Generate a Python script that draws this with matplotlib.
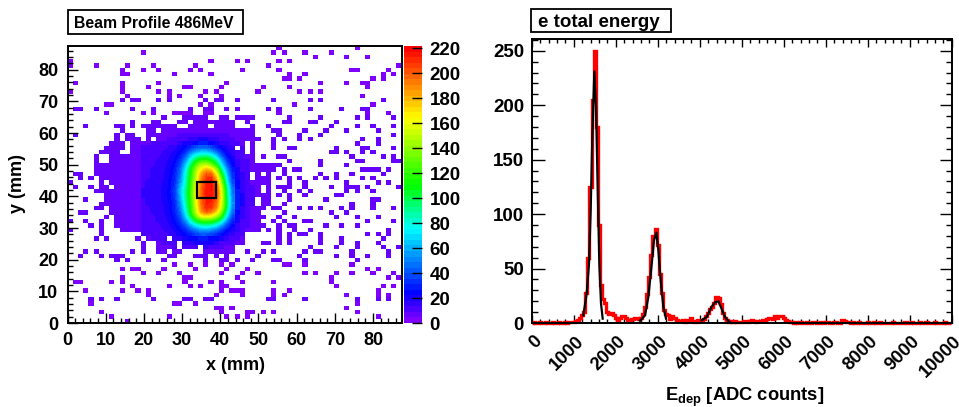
"""
Beam profile heat map and total energy spectrum, 486 MeV
Run: python plot.py  ->  out.png
"""

import numpy as np
import matplotlib
matplotlib.use("Agg")
import matplotlib.pyplot as plt
from matplotlib.colors import LinearSegmentedColormap
from matplotlib.patches import Rectangle
from matplotlib.ticker import MultipleLocator
from matplotlib.transforms import ScaledTranslation

plt.rcParams["font.family"] = ["Liberation Sans", "DejaVu Sans"]
plt.rcParams["font.weight"] = "bold"
plt.rcParams["mathtext.fontset"] = "custom"
plt.rcParams["mathtext.bf"] = "Liberation Sans:bold"
plt.rcParams["mathtext.rm"] = "Liberation Sans:bold"

W, H = 959, 407

# ── left panel: filled cells per row, top row first ──
ROW_CELLS = [
    "40,55", "14,39,41,45,50", "47,53,57", "0,27,32,34,40,42",
    "0,5,11,16,24,38,63", "10,14,17,23,25,33,40,54,55,61",
    "10,11,20,27,42,45,60,62", "41,42,44,58,60",
    "1,10,17,30,48,53,56,57", "10,15,22,23,29,37,42,57",
    "0,10,17,19,26,28,36,44,46,48", "11,19,21,25,29,56",
    "10,12,13,17,19,26,28,29,32,39,46,48,60", "7,8,25,27,43,58",
    "1,2,5,12,16,23,26,27,30,32,38,40,46,52,56,57",
    "7,14,16,20-23,26,27,40,57,61",
    "18,22-26,29,30,32-35,42,48,55,57,62",
    "12,16,17,21,22,24-31,34,41,42,46,47,51",
    "3,9,10,12,14-20,23-26,28-31,35,38,50,55,58,62",
    "10,15,16,18-35,39,40,45,49,53,59",
    "1,9,11,12,15-35,40,44,48,62",
    "9,11-13,15,17-36,39,41,44,46,56,59",
    "8-10,12-33,35,39,55,59",
    "7-10,12-31,33,35,39,42,43,51,56,57,62",
    "6-9,12-33,35,50,51,53,56,58",
    "5,8-35,37,40,41,54,60,62",
    "5,8-35,42,48,55,56,62,63",
    "5-40,48,53",
    "5-39,41,43,44,56-59,61",
    "1,2,5-34,36,38,41,48,51,54,60",
    "2,4,6-34,36-38,40,42,44,47,49,51,56,58",
    "0,6,8-38,42,45,53,59,61",
    "1,4,6,7,9-36,38,40-42,45,50,53-55,57,63",
    "5-36,38,41,44,46,53,55,58",
    "7-38,40,42,45,51,52",
    "3,7-35,37,38,42,49,58,59",
    "6-35,37,38,41,54,58",
    "5,6,8-37,39,40,44,46,48,52,54,58,62",
    "2,3,8-36,41,50,53",
    "7,9-37,40,43,51,55,59",
    "0,3,6,9-36,39,41,45,46,57,62",
    "4,6,9-37,40,42,43,49,52,55",
    "0,6,10-36,38,40,43,46,61",
    "6,14-33,40,42,44,45,48,57,59,61",
    "5,7,13,15-18,20-33,40,42,48,52,60",
    "14,17-20,22-33,37,38,40,42,48,52,55,59",
    "14,17-20,22-24,26-31,46,51,55,60,63",
    "3,5,12,14,17,18,20,21,26-31,34,37,39,45,47,48,54,61",
    "2,6,8-10,19,20,24-26,28,30,36,44,51,54,57,61",
    "9,11,15,18,26,29,30,32,35,39,40,45,55",
    "20,23,26,29,31,41,42,45,54",
    "10,12,13,18,24,30,34,57,59",
    "14,17,21,29,33,36,45,47,51,54,58,62",
    "10,22,23,32,50,61,63",
    "1,2,8,10,22,27,29,33,39,50",
    "12,19,23,25,29,30,51,60,62",
    "3,10,13,15,29,31,32,33,39,42,59",
    "15,28,33,39,41,53,59,61",
    "4,6,9,16,22,23,26,27,38,39,45,55,59,61",
    "4,20,21,24,55",
    "28,29,31,53",
    "6,29,34,35,37,39,55",
    "8,19,30,32,34,59",
    "11",
]

SINGLE_COUNT = 1     # isolated cells
HALO_COUNT   = 7     # outer part of the beam
CORE_ROW0    = 20    # first row of CORE_VALUES
CORE_COL0    = 14    # first column of CORE_VALUES
CORE_VALUES = [
    [6, 6, 6, 6, 7, 7, 8, 9, 10, 11, 12, 13, 13, 12, 11, 10, 9, 8, 7, 6, 6, 5, 5, 5],
    [7, 7, 7, 8, 8, 9, 10, 11, 13, 15, 17, 18, 18, 17, 15, 13, 11, 9, 8, 7, 6, 6, 5, 5],
    [8, 8, 9, 9, 10, 11, 13, 15, 18, 21, 25, 27, 27, 25, 21, 17, 14, 11, 9, 8, 7, 6, 6, 5],
    [9, 9, 10, 11, 12, 14, 16, 20, 25, 30, 38, 42, 42, 37, 29, 22, 17, 13, 10, 9, 8, 7, 6, 5],
    [10, 10, 11, 12, 14, 16, 19, 24, 32, 46, 58, 64, 64, 57, 44, 30, 20, 15, 11, 9, 8, 7, 6, 5],
    [11, 11, 12, 13, 15, 18, 22, 28, 42, 64, 82, 90, 92, 84, 67, 42, 26, 18, 13, 10, 8, 7, 6, 6],
    [11, 12, 13, 14, 16, 19, 24, 33, 52, 80, 105, 118, 120, 108, 88, 57, 33, 21, 15, 11, 9, 7, 6, 6],
    [12, 12, 13, 15, 17, 20, 26, 38, 63, 95, 125, 145, 150, 135, 110, 72, 42, 24, 17, 12, 9, 7, 6, 6],
    [12, 13, 14, 15, 17, 21, 28, 44, 72, 108, 140, 165, 178, 170, 140, 90, 52, 28, 18, 13, 10, 8, 7, 6],
    [13, 13, 14, 16, 18, 22, 30, 46, 78, 112, 148, 180, 200, 195, 160, 108, 62, 32, 20, 14, 10, 8, 7, 6],
    [13, 13, 14, 16, 18, 23, 31, 50, 80, 115, 150, 190, 208, 212, 178, 125, 70, 34, 21, 15, 11, 8, 7, 6],
    [13, 14, 15, 16, 19, 24, 32, 54, 82, 118, 155, 192, 212, 216, 190, 138, 77, 38, 23, 16, 11, 8, 7, 6],
    [13, 14, 15, 17, 19, 24, 34, 60, 85, 120, 158, 195, 214, 218, 200, 150, 87, 43, 25, 17, 12, 9, 7, 6],
    [14, 14, 15, 17, 20, 25, 37, 63, 90, 122, 160, 198, 216, 218, 205, 155, 93, 48, 27, 17, 12, 9, 7, 6],
    [14, 14, 15, 17, 20, 25, 35, 61, 90, 122, 162, 198, 216, 216, 204, 158, 96, 49, 27, 18, 12, 9, 7, 6],
    [13, 14, 15, 17, 19, 24, 33, 58, 88, 120, 160, 196, 214, 215, 200, 158, 98, 52, 28, 18, 12, 9, 7, 6],
    [13, 14, 15, 16, 19, 23, 32, 54, 85, 118, 158, 196, 214, 212, 196, 155, 100, 54, 29, 18, 12, 9, 7, 6],
    [13, 13, 14, 16, 18, 23, 31, 50, 80, 115, 155, 192, 212, 208, 190, 150, 95, 50, 27, 17, 12, 8, 7, 6],
    [12, 13, 14, 15, 18, 22, 30, 45, 75, 112, 150, 185, 200, 192, 172, 135, 85, 45, 25, 16, 11, 8, 7, 6],
    [12, 12, 13, 15, 17, 21, 28, 40, 66, 100, 135, 160, 165, 160, 145, 115, 71, 38, 22, 15, 10, 8, 7, 6],
    [12, 12, 13, 14, 16, 20, 26, 35, 53, 80, 105, 120, 125, 120, 108, 85, 53, 31, 20, 13, 10, 8, 6, 6],
    [11, 11, 12, 13, 15, 18, 23, 30, 42, 60, 76, 86, 88, 85, 76, 57, 38, 24, 16, 12, 9, 7, 6, 6],
    [10, 10, 11, 12, 14, 16, 20, 25, 32, 43, 52, 60, 62, 57, 50, 38, 27, 19, 14, 10, 8, 7, 6, 5],
    [9, 9, 10, 11, 12, 14, 17, 21, 25, 30, 36, 40, 40, 37, 32, 25, 19, 14, 11, 9, 8, 6, 6, 5],
    [8, 8, 9, 10, 10, 12, 14, 17, 19, 23, 26, 28, 28, 26, 23, 18, 14, 11, 9, 8, 7, 6, 5, 5],
    [7, 7, 8, 8, 9, 10, 11, 13, 15, 17, 19, 20, 20, 19, 16, 13, 11, 9, 8, 7, 6, 5, 5, 5],
    [6, 6, 6, 7, 7, 8, 9, 10, 11, 12, 13, 14, 14, 13, 11, 10, 8, 7, 7, 6, 5, 5, 5, 5],
]

N_BINS     = 64
MM_MAX     = 87.5
COUNT_MAX  = 222
BOX_X      = [33.8, 38.9]
BOX_Y      = [39.6, 44.4]

PALETTE_POS = [0, 22, 75, 110, 165, 222]
PALETTE_COL = ["#8000ff", "#0000ff", "#00ffff", "#00ff00", "#ffff00", "#ff0000"]

# ── right panel: histogram, 50 ADC per bin ──
BIN_WIDTH = 50
RED_COUNTS = [
    0, 1, 0, 0, 1, 0, 0, 1, 0, 0, 1, 0, 0, 1, 0, 0, 1, 0, 1, 1,
    1, 2, 3, 5, 7, 10, 28, 60, 125, 205, 250, 180, 90, 35, 22, 18, 10, 8, 9, 7,
    5, 3, 5, 6, 6, 5, 3, 2, 4, 5, 5, 4, 5, 8, 15, 27, 42, 62, 80, 86,
    72, 45, 28, 12, 8, 7, 4, 6, 5, 3, 2, 2, 3, 1, 3, 2, 5, 2, 1, 3,
    3, 3, 4, 6, 9, 13, 15, 18, 24, 23, 17, 9, 5, 3, 1, 2, 1, 2, 1, 1,
    1, 2, 2, 1, 2, 3, 2, 1, 2, 2, 3, 3, 4, 5, 5, 4, 6, 5, 6, 6,
    5, 3, 2, 1, 1, 0, 1, 0, 1, 0, 0, 1, 0, 0, 1, 1, 0, 0, 1, 0,
    1, 1, 0, 0, 1, 1, 0, 0, 3, 2, 1, 1, 0, 1, 0, 0, 1, 0, 0, 0,
    1, 0, 0, 1, 0, 0, 1, 0, 0, 0, 0, 0, 1, 0, 0, 0, 0, 0, 1, 0,
    0, 1, 0, 0, 0, 1, 0, 0, 1, 0, 0, 0, 1, 0, 0, 0, 0, 1, 0, 0,
]

FIT1_X = [1229, 1309, 1364, 1404, 1443, 1491, 1531, 1571, 1610, 1650, 1690]
FIT1_Y = [7, 27, 54, 103, 170, 231, 198, 125, 54, 18, 4]
FIT2_X = [2578, 2698, 2777, 2857, 2912, 2968, 3015, 3071, 3134, 3198]
FIT2_Y = [2, 7, 24, 54, 76, 83, 67, 39, 15, 4]
FIT3_X = [4047, 4166, 4285, 4365, 4444, 4523, 4603, 4706]
FIT3_Y = [2.5, 5.5, 15, 19, 20, 13, 5.5, 1]

E_TICKS = [0, 1000, 2000, 3000, 4000, 5000, 6000, 7000, 8000, 9000, 10000]


def px_axes(fig, left, top, right, bottom):
    return fig.add_axes([left / W, 1 - bottom / H, (right - left) / W, (bottom - top) / H])


def parse_cells(spec):
    cols = []
    for part in spec.split(","):
        if "-" in part:
            a, b = part.split("-")
            cols.extend(range(int(a), int(b) + 1))
        else:
            cols.append(int(part))
    return cols


def build_grid():
    grid = np.full((N_BINS, N_BINS), np.nan)
    for r, spec in enumerate(ROW_CELLS):
        cols = parse_cells(spec)
        runs = len(cols) > 12
        for c in cols:
            grid[r, c] = HALO_COUNT if runs else SINGLE_COUNT
    for i, row in enumerate(CORE_VALUES):
        for j, val in enumerate(row):
            r, c = CORE_ROW0 + i, CORE_COL0 + j
            if not np.isnan(grid[r, c]):
                grid[r, c] = val
    return grid[::-1]


def title_box(fig, left, top, right, bottom, text, size):
    fig.add_artist(Rectangle((left / W, 1 - bottom / H), (right - left) / W, (bottom - top) / H,
                             transform=fig.transFigure, facecolor="white",
                             edgecolor="black", linewidth=1.3))
    fig.text((left + 7) / W, 1 - (top + bottom) / 2 / H, text, ha="left", va="center_baseline",
             fontsize=size, color="black")


def plot_profile(fig):
    ax = px_axes(fig, 67.5, 46, 401.7, 323)
    edges = np.linspace(0, MM_MAX, N_BINS + 1)
    pos = [p / COUNT_MAX for p in PALETTE_POS]
    cmap = LinearSegmentedColormap.from_list("root_rainbow", list(zip(pos, PALETTE_COL)), N=50)
    grid = build_grid()
    mesh = ax.pcolormesh(edges, edges, grid, cmap=cmap, vmin=0, vmax=COUNT_MAX)

    # the gap free middle of the beam reads smooth in the reference
    r0, r1 = N_BINS - 44, N_BINS - 23
    c0, c1 = 14, 32
    ax.imshow(grid[r0:r1, c0:c1], origin="lower", aspect="auto", interpolation="bilinear",
              extent=(edges[c0], edges[c1], edges[r0], edges[r1]),
              cmap=cmap, vmin=0, vmax=COUNT_MAX, zorder=2)

    ax.add_patch(Rectangle((BOX_X[0], BOX_Y[0]), BOX_X[1] - BOX_X[0], BOX_Y[1] - BOX_Y[0],
                           fill=False, edgecolor="black", linewidth=1.6, zorder=5))
    ax.set_xlim(0, MM_MAX)
    ax.set_ylim(0, MM_MAX)
    ax.xaxis.set_major_locator(MultipleLocator(10))
    ax.xaxis.set_minor_locator(MultipleLocator(2))
    ax.yaxis.set_major_locator(MultipleLocator(10))
    ax.yaxis.set_minor_locator(MultipleLocator(2))
    ax.tick_params(which="major", direction="in", length=7.5, width=1, labelsize=13, pad=6.5)
    ax.tick_params(which="minor", direction="in", length=3.5, width=1)
    for sp in ax.spines.values():
        sp.set_linewidth(1.4)
    fig.text(235 / W, 1 - 365 / H, "x (mm)", ha="center", va="center", fontsize=13)
    fig.text(18 / W, 1 - 184 / H, "y (mm)", ha="center", va="center", rotation=90, fontsize=13)

    cax = px_axes(fig, 404, 46, 422.5, 323)
    cb = fig.colorbar(mesh, cax=cax)
    cb.outline.set_linewidth(0)
    cb.set_ticks(np.arange(0, 221, 20))
    cb.ax.tick_params(direction="in", length=7.5, width=1, labelsize=13.5, pad=5)
    cb.ax.minorticks_off()
    title_box(fig, 67.5, 9.5, 243, 34, "Beam Profile 486MeV", 11.3)


def plot_spectrum(fig):
    ax = px_axes(fig, 531.7, 39, 951.7, 323)
    counts = np.array(RED_COUNTS, dtype=float)
    edges = np.clip(np.arange(len(counts) + 1) * BIN_WIDTH - BIN_WIDTH / 2, 0, 10000)
    ax.stairs(counts, edges, color="#ff0000", linewidth=2.4, baseline=None, clip_on=False, zorder=2)
    for fx, fy in [(FIT1_X, FIT1_Y), (FIT2_X, FIT2_Y), (FIT3_X, FIT3_Y)]:
        ax.plot(fx, fy, color="black", linewidth=1.6, zorder=3)
    ax.set_xlim(0, 10000)
    ax.set_ylim(0, 260.8)
    ax.set_xticks(E_TICKS)
    ax.xaxis.set_minor_locator(MultipleLocator(200))
    ax.yaxis.set_major_locator(MultipleLocator(50))
    ax.yaxis.set_minor_locator(MultipleLocator(10))
    ax.tick_params(axis="y", which="major", direction="in", length=9, width=1,
                   left=True, right=True, labelsize=13.5, pad=5.5)
    ax.tick_params(axis="y", which="minor", direction="in", length=4.5, width=1, left=True, right=True)
    ax.tick_params(axis="x", which="major", direction="in", length=6, width=1,
                   bottom=True, top=True, labelsize=13.2, pad=7)
    ax.tick_params(axis="x", which="minor", direction="in", length=3, width=1, bottom=True, top=True)
    shift = ScaledTranslation(1.5 / 100, 0, fig.dpi_scale_trans)
    for lab in ax.get_xticklabels():
        lab.set(rotation=45, ha="right", va="top", rotation_mode="anchor")
        lab.set_transform(lab.get_transform() + shift)
    for sp in ax.spines.values():
        sp.set_linewidth(1.4)
        sp.set_zorder(4)
    fig.text(745 / W, 1 - 397 / H, r"$\mathbf{E_{dep}}$ [ADC counts]", ha="center", va="center", fontsize=13.2)
    title_box(fig, 531, 9, 671, 32, "e total energy", 13.5)


def main():
    fig = plt.figure(figsize=(W / 100, H / 100), dpi=100)
    plot_profile(fig)
    plot_spectrum(fig)
    fig.savefig("out.png", dpi=100)


if __name__ == "__main__":
    main()
